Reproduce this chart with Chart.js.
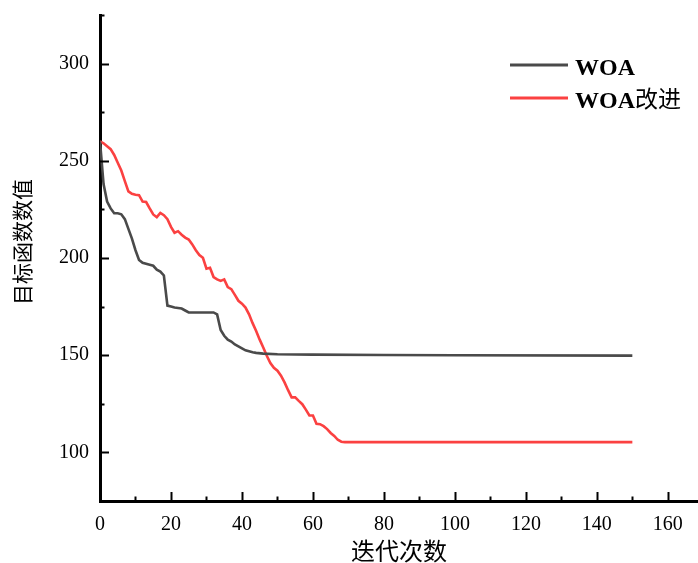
<!DOCTYPE html>
<html lang="zh">
<head>
  <meta charset="UTF-8">
  <title>WOA 收敛曲线</title>
  <script src="https://cdn.jsdelivr.net/npm/chart.js@4.4.0/dist/chart.umd.min.js"></script>
  <style>
    html, body { margin: 0; padding: 0; background: #fff; }
    #wrap { position: relative; width: 698px; height: 563px; }
  </style>
</head>
<body>
  <div id="wrap"><canvas id="curve"></canvas></div>

  <script>
    // iterations / objective values (key points)
    const woaIter = [0, 1, 2, 3, 4, 5, 6, 7, 8, 9, 10, 11, 12, 14, 15, 16, 17, 18, 19, 20, 21, 22, 23, 24, 25, 32, 33, 34, 35, 36, 37, 38, 39, 40, 41, 42, 43, 44, 46, 50, 60, 80, 100, 150];
    const woaVal  = [260, 238, 229, 225.5, 223, 223, 222.5, 220, 215, 210, 204, 199, 197.5, 196.5, 196, 194, 193, 191, 175.5, 175, 174.5, 174.3, 174, 173, 172, 172, 171, 163, 160, 158, 157, 155.5, 154.5, 153.5, 152.5, 152, 151.5, 151.2, 150.8, 150.5, 150.3, 150.1, 150, 149.8];

    const impIter = [0, 1, 2, 3, 4, 5, 6, 7, 8, 9, 10, 11, 12, 13, 14, 15, 16, 17, 18, 19, 20, 21, 22, 23, 24, 25, 26, 27, 28, 29, 30, 31, 32, 33, 34, 35, 36, 37, 38, 39, 40, 41, 42, 43, 44, 45, 46, 47, 48, 49, 50, 51, 52, 53, 54, 55, 56, 57, 58, 59, 60, 61, 62, 63, 64, 65, 66, 67, 68, 69, 150];
    const impVal  = [260, 259, 257.5, 256, 253, 249, 245, 239.5, 234.3, 233, 232.5, 232.3, 229, 228.8, 225.5, 222.4, 221, 223.2, 222, 220, 216, 213, 213.8, 212, 210.5, 209.5, 207, 204, 201.5, 200.1, 194.5, 195, 190.2, 189, 188.2, 189, 185, 184, 181, 178, 176.5, 174.5, 171, 166.5, 162.5, 158, 154, 149.7, 146, 143.5, 142, 139.5, 136, 132, 128.3, 128.3, 126.5, 124.8, 122, 119, 119, 114.7, 114.5, 113.5, 112, 110, 108.5, 106.5, 105.5, 105.3, 105.3];

    const seriesNames = ['WOA', 'WOA改进'];
    const xMajor = [0, 20, 40, 60, 80, 100, 120, 140, 160];
    const xMinor = [10, 30, 50, 70, 90, 110, 130, 150];
    const yMajor = [100, 150, 200, 250, 300];
    const yMinor = [125, 175, 225, 275, 325];
    const xTitle = '迭代次数';
    const yTitle = '目标函数数值';

    const serif = "'Liberation Serif', 'Times New Roman', serif";
    const cjk = "'Noto Sans CJK SC', sans-serif";

    const pts = (xs, ys) => xs.map((x, i) => ({ x, y: ys[i] }));

    // ticks point inward, majors long, minors short
    const innerTicks = {
      id: 'innerTicks',
      afterDraw(chart) {
        const { ctx, chartArea, scales } = chart;
        ctx.save();
        ctx.strokeStyle = '#000';
        ctx.lineWidth = 2;
        const xs = scales.x, ys = scales.y;
        const b = chartArea.bottom, l = chartArea.left;
        xMajor.concat(xMinor).forEach(v => {
          const len = xMajor.includes(v) ? 9 : 4.5;
          const px = Math.round(xs.getPixelForValue(v)) + 0.5;
          ctx.beginPath(); ctx.moveTo(px, b); ctx.lineTo(px, b - len); ctx.stroke();
        });
        yMajor.concat(yMinor).forEach(v => {
          const len = yMajor.includes(v) ? 9 : 4.5;
          const py = Math.round(ys.getPixelForValue(v)) + 0.5;
          ctx.beginPath(); ctx.moveTo(l, py); ctx.lineTo(l + len, py); ctx.stroke();
        });
        ctx.restore();
      }
    };

    // axis titles + legend in the top right corner
    const decorations = {
      id: 'decorations',
      afterDraw(chart) {
        const { ctx, chartArea } = chart;
        ctx.save();
        ctx.fillStyle = '#000';
        ctx.textAlign = 'center';
        ctx.textBaseline = 'middle';
        ctx.font = '24px ' + cjk;
        ctx.fillText(xTitle, (chartArea.left + chartArea.right) / 2, 551);

        ctx.translate(22.5, 242);
        ctx.rotate(-Math.PI / 2);
        ctx.font = '21px ' + cjk;
        ctx.fillText(yTitle, 0, 0);
        ctx.restore();

        ctx.save();
        ctx.textAlign = 'left';
        ctx.textBaseline = 'alphabetic';
        chart.data.datasets.forEach((ds, i) => {
          const ly = 65 + i * 33;
          ctx.strokeStyle = ds.borderColor;
          ctx.lineWidth = 3;
          ctx.beginPath(); ctx.moveTo(510, ly); ctx.lineTo(568, ly); ctx.stroke();
          const m = ds.label.match(/^([\x00-\x7f]*)(.*)$/);
          ctx.fillStyle = '#000';
          ctx.font = 'bold 24px ' + serif;
          ctx.fillText(m[1], 575, ly + 10);
          if (m[2]) {
            const w = ctx.measureText(m[1]).width;
            ctx.font = '23px ' + cjk;
            ctx.fillText(m[2], 575 + w, ly + 9);
          }
        });
        ctx.restore();
      }
    };

    new Chart(document.getElementById('curve').getContext('2d'), {
      type: 'line',
      data: {
        datasets: [
          { label: seriesNames[0], data: pts(woaIter, woaVal), borderColor: '#4a4a4a', borderWidth: 2.6 },
          { label: seriesNames[1], data: pts(impIter, impVal), borderColor: '#fb4141', borderWidth: 2.6 }
        ]
      },
      options: {
        responsive: true,
        maintainAspectRatio: false,
        animation: false,
        layout: { padding: { top: 4, right: 0, left: 0, bottom: 0 } },
        elements: { point: { radius: 0 }, line: { tension: 0 } },
        scales: {
          x: {
            type: 'linear',
            min: 0,
            max: 168.5,
            grid: { display: false },
            border: { display: true, color: '#000', width: 3 },
            afterBuildTicks: s => { s.ticks = xMajor.map(v => ({ value: v })); },
            afterFit: s => { s.height = 62; },
            ticks: { color: '#000', font: { family: serif, size: 20 }, padding: 4, maxRotation: 0 }
          },
          y: {
            type: 'linear',
            min: 75,
            max: 325,
            grid: { display: false },
            border: { display: true, color: '#000', width: 3 },
            afterBuildTicks: s => { s.ticks = yMajor.map(v => ({ value: v })); },
            afterFit: s => { s.width = 100; },
            ticks: { color: '#000', font: { family: serif, size: 20 }, padding: 3 }
          }
        },
        plugins: {
          legend: { display: false },
          tooltip: { enabled: false }
        }
      },
      plugins: [innerTicks, decorations]
    });
  </script>
</body>
</html>
